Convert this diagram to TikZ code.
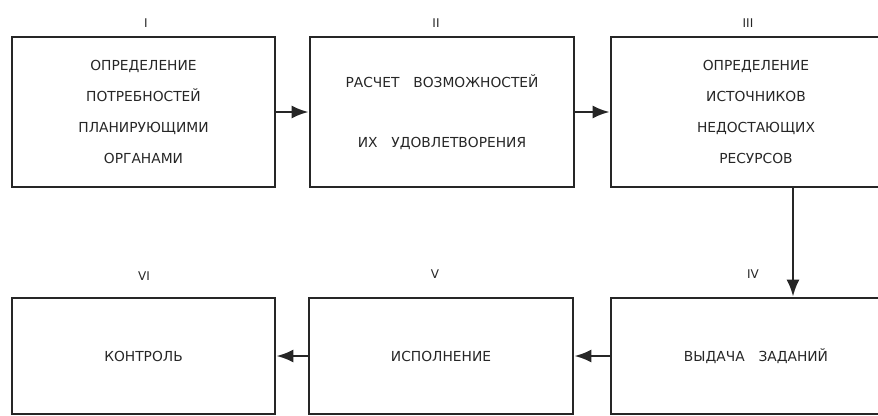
\documentclass[tikz,border=0pt]{standalone}
\usepackage{fontspec}
\setmainfont{DejaVu Sans}
\usetikzlibrary{arrows.meta,positioning}

\begin{document}
\begin{tikzpicture}[x=1pt,y=-1pt,
  stage/.style={draw=black!85,line width=2.6pt,minimum height=150pt,align=center,
    font=\fontsize{13.8}{31}\selectfont,text=black!85},
  num/.style={font=\fontsize{12}{14}\selectfont,text=black!85},
  flow/.style={line width=2.6pt,draw=black!85,-{Latex[length=17pt,width=13pt]}}]
  \useasboundingbox (0,0) rectangle (878,415);
  \clip (0,0) rectangle (878,415);
  % верхний ряд
  \node[stage,minimum width=263pt] (boxI) at (143.5,112)
    {ОПРЕДЕЛЕНИЕ\\ПОТРЕБНОСТЕЙ\\ПЛАНИРУЮЩИМИ\\ОРГАНАМИ};
  \node[stage,minimum width=264pt] (boxII) at (442,112)
    {РАСЧЕТ\quad ВОЗМОЖНОСТЕЙ\\[29pt]ИХ\quad УДОВЛЕТВОРЕНИЯ};
  \node[stage,minimum width=290pt] (boxIII) at (756,112)
    {ОПРЕДЕЛЕНИЕ\\ИСТОЧНИКОВ\\НЕДОСТАЮЩИХ\\РЕСУРСОВ};
  % нижний ряд
  \node[stage,minimum width=290pt,minimum height=116pt] (boxIV) at (756,356)
    {ВЫДАЧА\quad ЗАДАНИЙ};
  \node[stage,minimum width=264pt,minimum height=116pt] (boxV) at (441,356)
    {ИСПОЛНЕНИЕ};
  \node[stage,minimum width=263pt,minimum height=116pt] (boxVI) at (143.5,356)
    {КОНТРОЛЬ};
  % номера этапов
  \node[num] (numI) at (146,23) {I};
  \node[num] (numII) at (436,23) {II};
  \node[num] (numIII) at (748,23) {III};
  \node[num] (numIV) at (753,274) {IV};
  \node[num] (numV) at (435,274) {V};
  \node[num] (numVI) at (144,276) {VI};
  % стрелки
  \coordinate (drop) at (793,0);
  \draw[flow] (boxI) -- (boxII);
  \draw[flow] (boxII) -- (boxIII);
  \draw[flow] (boxIII.south -| drop) -- (boxIV.north -| drop);
  \draw[flow] (boxIV) -- (boxV);
  \draw[flow] (boxV) -- (boxVI);
\end{tikzpicture}
\end{document}
